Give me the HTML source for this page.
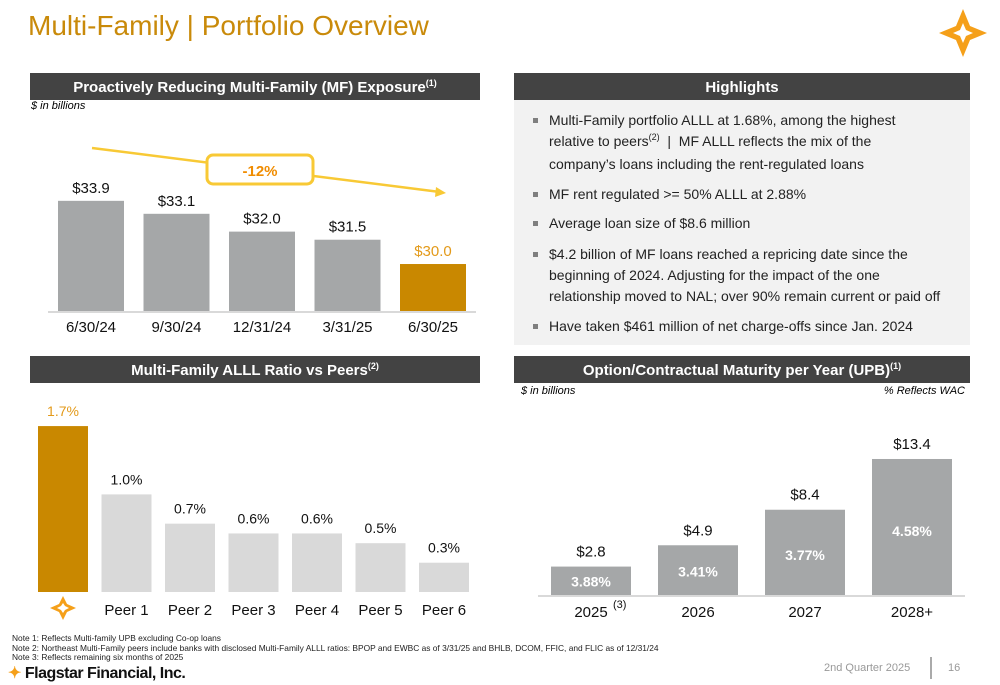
<!DOCTYPE html>
<html><head><meta charset="utf-8"><style>
body{margin:0;width:1000px;height:685px;background:#fff;font-family:"Liberation Sans",Arial,sans-serif;position:relative;overflow:hidden}
.abs{position:absolute}
.hdr{position:absolute;background:#434343;color:#fff;font-weight:bold;font-size:15px;text-align:center;line-height:29px;height:27px}
.hdr sup,.bl sup{font-size:9px;vertical-align:baseline;position:relative;top:-0.7em}
.hl{position:absolute;left:514px;top:100px;width:456px;height:245px;background:#f2f2f2}
.bl{position:absolute;left:35px;font-size:14px;line-height:21px;color:#222;width:420px;white-space:nowrap}
.bl:before{content:"";position:absolute;left:-16px;top:8px;width:5px;height:5px;background:#7f7f7f}
.note{position:absolute;left:12px;font-size:8.4px;color:#222;white-space:nowrap}
</style></head><body>
<div class="abs" style="left:28px;top:10px;font-size:28px;color:#c98a0a">Multi-Family | Portfolio Overview</div>
<svg class="abs" style="left:938px;top:8px" width="50" height="50" viewBox="-25 -25 50 50"><path d="M0,-24 L7,-7 L24,0 L7,7 L0,24 L-7,7 L-24,0 L-7,-7Z" fill="#f5a01a"/><path d="M0,-10 L3,-3 L10,0 L3,3 L0,10 L-3,3 L-10,0 L-3,-3Z" fill="#fff"/></svg>

<div class="hdr" style="left:30px;top:73px;width:450px">Proactively Reducing Multi-Family (MF) Exposure<sup>(1)</sup></div>
<div class="abs" style="left:31px;top:100px;font-size:11px;font-style:italic">$ in billions</div>
<svg class="abs" id="c1" style="left:0;top:110px" width="500" height="230"></svg>

<div class="hdr" style="left:30px;top:356px;width:450px">Multi-Family ALLL Ratio vs Peers<sup>(2)</sup></div>
<svg class="abs" id="c2" style="left:0;top:390px" width="500" height="235"></svg>

<div class="hdr" style="left:514px;top:73px;width:456px">Highlights</div>
<div class="hl">
<div class="bl" style="top:10px">Multi-Family portfolio ALLL at 1.68%, among the highest<br>relative to peers<sup>(2)</sup> &nbsp;|&nbsp; MF ALLL reflects the mix of the<br>company’s loans including the rent-regulated loans</div>
<div class="bl" style="top:84px">MF rent regulated &gt;= 50% ALLL at 2.88%</div>
<div class="bl" style="top:113px">Average loan size of $8.6 million</div>
<div class="bl" style="top:144px">$4.2 billion of MF loans reached a repricing date since the<br>beginning of 2024. Adjusting for the impact of the one<br>relationship moved to NAL; over 90% remain current or paid off</div>
<div class="bl" style="top:216px">Have taken $461 million of net charge-offs since Jan. 2024</div>
</div>

<div class="hdr" style="left:514px;top:356px;width:456px">Option/Contractual Maturity per Year (UPB)<sup>(1)</sup></div>
<div class="abs" style="left:521px;top:385px;font-size:11px;font-style:italic">$ in billions</div>
<div class="abs" style="left:860px;width:105px;text-align:right;top:385px;font-size:11px;font-style:italic">% Reflects WAC</div>
<svg class="abs" id="c3" style="left:500px;top:400px" width="500" height="230"></svg>

<div class="note" style="top:633px">Note 1: Reflects Multi-family UPB excluding Co-op loans</div>
<div class="note" style="top:643px">Note 2: Northeast Multi-Family peers include banks with disclosed Multi-Family ALLL ratios: BPOP and EWBC as of 3/31/25 and BHLB, DCOM, FFIC, and FLIC as of 12/31/24</div>
<div class="note" style="top:652px">Note 3: Reflects remaining six months of 2025</div>
<div class="abs" style="left:8px;top:663px;font-size:16px;font-weight:bold;color:#111;letter-spacing:-0.5px"><span style="color:#f5a01a">✦</span> Flagstar Financial, Inc.</div>
<div class="abs" style="left:824px;top:662px;font-size:11px;color:#999">2nd Quarter 2025</div>
<div class="abs" style="left:930px;top:657px;width:2px;height:22px;background:#aaa"></div>
<div class="abs" style="left:948px;top:662px;font-size:11px;color:#999">16</div>

<script>
const NS="http://www.w3.org/2000/svg";
function mk(p,t,a,txt){const e=document.createElementNS(NS,t);for(const k in a)e.setAttribute(k,a[k]);if(txt!=null)e.textContent=txt;p.appendChild(e);return e;}

// Chart 1
const expCats=["6/30/24","9/30/24","12/31/24","3/31/25","6/30/25"];
const expVals=[33.9,33.1,32.0,31.5,30.0];
const expLabels=["$33.9","$33.1","$32.0","$31.5","$30.0"];
const expChange="-12%";
// Chart 2
const peerCats=["","Peer 1","Peer 2","Peer 3","Peer 4","Peer 5","Peer 6"];
const peerVals=[1.7,1.0,0.7,0.6,0.6,0.5,0.3];
const peerLabels=["1.7%","1.0%","0.7%","0.6%","0.6%","0.5%","0.3%"];
// Chart 3
const matCats=["2025","2026","2027","2028+"];
const matVals=[2.8,4.9,8.4,13.4];
const matLabels=["$2.8","$4.9","$8.4","$13.4"];
const matWac=["3.88%","3.41%","3.77%","4.58%"];

(function(){
const s=document.getElementById('c1');
const base=201, y=v=>base-(v-27.1)*16.2, x=i=>58+i*85.5;
mk(s,'line',{x1:48,x2:476,y1:base+1,y2:base+1,stroke:'#d9d9d9','stroke-width':2});
expVals.forEach((v,i)=>{
 const last=i==expVals.length-1;
 const r=mk(s,'rect',{x:x(i),y:y(v),width:66,height:base-y(v),fill:last?'#c98800':'#a5a7a8'});
 
 
 const t=mk(s,'text',{x:x(i)+33,y:y(v)-8,'text-anchor':'middle','font-size':15,fill:last?'#e39a1a':'#111'},expLabels[i]);
 
 
 const c=mk(s,'text',{x:x(i)+33,y:base+21,'text-anchor':'middle','font-size':15,fill:'#111'},expCats[i]);
 
 
});
const ln=mk(s,'line',{x1:92,y1:38,x2:440,y2:82,stroke:'#f8c935','stroke-width':2.5});


mk(s,'path',{d:'M446,83 L436,77 L435,87Z',fill:'#f8c935'});
const b=mk(s,'rect',{x:207,y:45,width:106,height:29,rx:6,fill:'#fff',stroke:'#f8c935','stroke-width':3});


mk(s,'text',{x:260,y:66,'text-anchor':'middle','font-size':15,'font-weight':'bold',fill:'#f08c00'},expChange);
})();

(function(){
const s=document.getElementById('c2');
const base=202, y=v=>base-v*97.6, x=i=>38+i*63.5;
peerVals.forEach((v,i)=>{
 const f=i==0;
 const r=mk(s,'rect',{x:x(i),y:y(v),width:50,height:base-y(v),fill:f?'#c98800':'#d9d9d9'});
 
 
 const t=mk(s,'text',{x:x(i)+25,y:y(v)-10,'text-anchor':'middle','font-size':14,fill:f?'#e39a1a':'#111'},peerLabels[i]);
 
 
 if(peerCats[i]){
  const c=mk(s,'text',{x:x(i)+25,y:base+23,'text-anchor':'middle','font-size':15,fill:'#111'},peerCats[i]);
  
  
 }
});
const g=mk(s,'path',{d:'M63,206 L67,214 L76,218 L67,222 L63,230 L59,222 L50,218 L59,214Z',fill:'#f5a01a'});


mk(s,'path',{d:'M63,213 L65,216 L69,218 L65,220 L63,223 L61,220 L57,218 L61,216Z',fill:'#fff'});
})();

(function(){
const s=document.getElementById('c3');
const base=195, y=v=>base-v*10.15, x=i=>51+i*107;
mk(s,'line',{x1:38,x2:465,y1:base+1,y2:base+1,stroke:'#d9d9d9','stroke-width':2});
matVals.forEach((v,i)=>{
 const h=base-y(v);
 const r=mk(s,'rect',{x:x(i),y:y(v),width:80,height:h,fill:'#a5a7a8'});
 
 
 const t=mk(s,'text',{x:x(i)+40,y:y(v)-10,'text-anchor':'middle','font-size':15,fill:'#111'},matLabels[i]);
 
 
 const w=mk(s,'text',{x:x(i)+40,y:y(v)+h*0.53+5,'text-anchor':'middle','font-size':14,'font-weight':'bold',fill:'#fff'},matWac[i]);
 
 
 const c=mk(s,'text',{x:x(i)+40,y:base+22,'text-anchor':'middle','font-size':15,fill:'#111'},matCats[i]);
 
 
 if(i==0){mk(s,'text',{x:x(i)+62,y:base+13,'font-size':11,fill:'#111'},'(3)');}
});
})();
</script>
</body></html>
